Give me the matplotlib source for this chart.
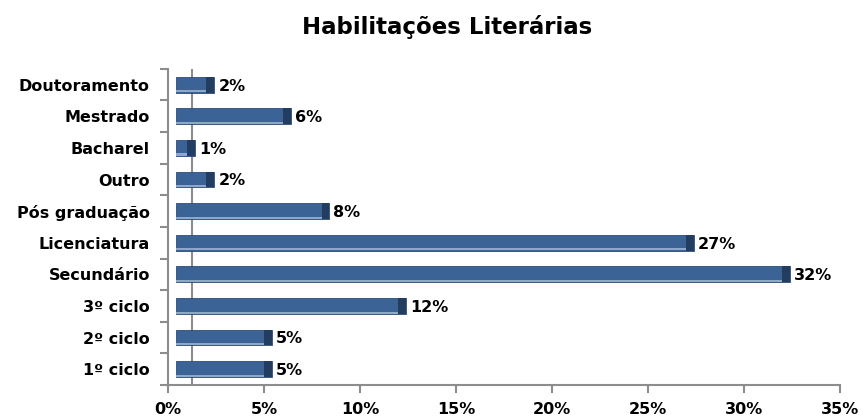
import matplotlib.pyplot as plt
import numpy as np

categorias = ['1º ciclo', '2º ciclo', '3º ciclo', 'Secundário', 'Licenciatura',
              'Pós graduação', 'Outro', 'Bacharel', 'Mestrado', 'Doutoramento']
percentagens = [5, 5, 12, 32, 27, 8, 2, 1, 6, 2]
rotulos = ['5%', '5%', '12%', '32%', '27%', '8%', '2%', '1%', '6%', '2%']
ticks_x = [0, 5, 10, 15, 20, 25, 30, 35]

plt.rcParams['font.family'] = ['DejaVu Sans']

fig = plt.figure(figsize=(8.63, 4.16), dpi=100)
ax = fig.add_axes([0.1947, 0.0745, 0.7786, 0.76])

y = np.arange(len(categorias))
cinza = '#8c8c8c'
prof = 0.4  # deslocamento da "profundidade" 3D

vals = np.array(percentagens)
# barra principal + tampa escura no fim para imitar o 3D do Excel
ax.barh(y, vals, left=prof, height=0.5, color='#3b6396', edgecolor='#2c4c78', linewidth=0.6, zorder=3)
ax.barh(y - 0.21, vals, left=prof, height=0.07, color='#8fa8c8', linewidth=0, zorder=4)
cap = 0.4
ax.barh(y, cap, left=vals + prof - cap, height=0.5, color='#233d61', linewidth=0, zorder=4)

for yi, v, r in zip(y, vals, rotulos):
    ax.annotate(r, (v + prof, yi), xytext=(3, -1), textcoords='offset points',
                ha='left', va='center', fontsize=11.5, fontweight='bold', zorder=5)

ax.set_xlim(0, 35)
ax.set_ylim(-0.5, len(categorias) - 0.5)
ax.set_xticks(ticks_x)
ax.set_xticklabels([f'{t}%' for t in ticks_x], fontsize=11.5, fontweight='bold')
ax.set_yticks(y)
ax.set_yticklabels(categorias, fontsize=11.5, fontweight='bold')
ax.set_yticks(np.arange(-0.5, len(categorias), 1), minor=True)
ax.tick_params(axis='y', which='major', length=0, pad=13)
ax.tick_params(axis='y', which='minor', length=6, color=cinza, width=1.5)
ax.tick_params(axis='x', length=6, color=cinza, width=1.5, pad=6)

for s in ['top', 'right']:
    ax.spines[s].set_visible(False)
for s in ['left', 'bottom']:
    ax.spines[s].set_color(cinza)
    ax.spines[s].set_linewidth(1.5)

# parede de fundo (efeito 3D)
ax.axvline(1.25, color=cinza, linewidth=1.5, zorder=1)

fig.suptitle('Habilitações Literárias', x=0.518, y=0.965, fontsize=16.5, fontweight='bold')

fig.savefig('out.png', dpi=100)
